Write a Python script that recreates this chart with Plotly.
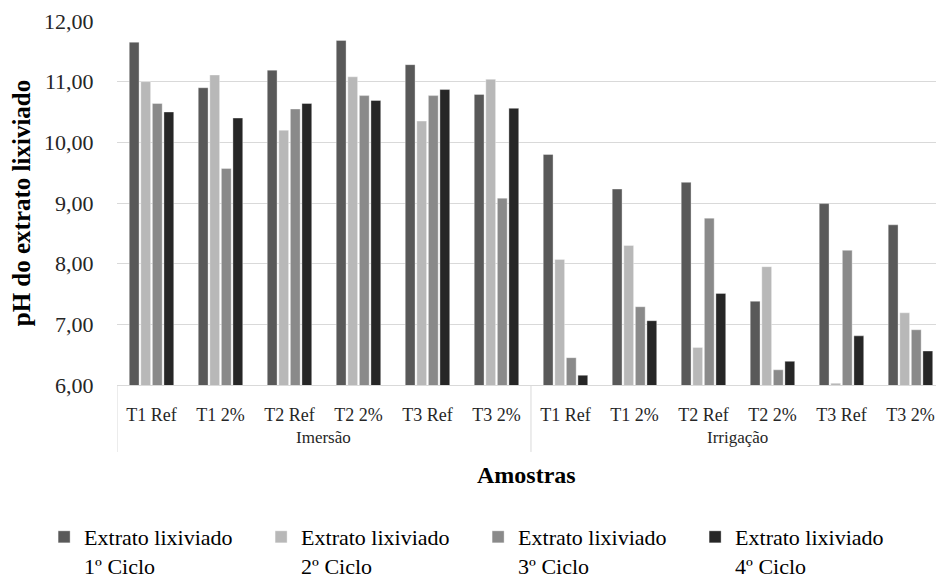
import plotly.graph_objects as go

# Categorias do eixo X (método de lixiviação / amostra)
metodos = ["Imersão"] * 6 + ["Irrigação"] * 6
amostras = ["T1 Ref", "T1 2%", "T2 Ref", "T2 2%", "T3 Ref", "T3 2%"] * 2

# pH do extrato lixiviado em cada ciclo
ciclo1 = [11.65, 10.90, 11.19, 11.68, 11.28, 10.79, 9.80, 9.23, 9.34, 7.38, 8.99, 8.64]
ciclo2 = [11.00, 11.11, 10.20, 11.08, 10.35, 11.04, 8.07, 8.30, 6.62, 7.95, 6.03, 7.19]
ciclo3 = [10.64, 9.57, 10.55, 10.77, 10.77, 9.08, 6.45, 7.29, 8.75, 6.25, 8.22, 6.91]
ciclo4 = [10.50, 10.40, 10.64, 10.69, 10.87, 10.56, 6.16, 7.06, 7.51, 6.39, 6.81, 6.56]

series = [
    ("Extrato lixiviado<br>1º Ciclo", ciclo1, "#595959"),
    ("Extrato lixiviado<br>2º Ciclo", ciclo2, "#b8b8b8"),
    ("Extrato lixiviado<br>3º Ciclo", ciclo3, "#8a8a8a"),
    ("Extrato lixiviado<br>4º Ciclo", ciclo4, "#262626"),
]

FONT = "Times New Roman, Liberation Serif, serif"
GRID = "#d9d9d9"

# posição de cada amostra no eixo (uma por categoria)
posicoes = list(range(len(amostras)))

fig = go.Figure()
for nome, valores, cor in series:
    fig.add_trace(go.Bar(
        x=posicoes,
        y=valores,
        name=nome,
        marker=dict(color=cor, line=dict(color="rgba(255,255,255,0.6)", width=0.6)),
    ))

# grupos (Imersão / Irrigação): rótulo centrado e divisórias nas bordas
grupos = []
for i, m in enumerate(metodos):
    if not grupos or grupos[-1][0] != m:
        grupos.append([m, i, i])
    else:
        grupos[-1][2] = i

annotations = []
shapes = []
for nome, ini, fim in grupos:
    annotations.append(dict(
        x=(ini + fim) / 2, xref="x",
        y=-0.1456, yref="paper",
        text=nome, showarrow=False,
        xanchor="center", yanchor="middle",
        font=dict(family=FONT, size=17, color="#262626"),
    ))
    shapes.append(dict(
        type="line", xref="x", yref="paper",
        x0=ini - 0.5, x1=ini - 0.5, y0=0, y1=-0.184,
        line=dict(color=GRID, width=1),
    ))

# título do eixo X
annotations.append(dict(
    x=0.5, xref="paper", y=-0.247, yref="paper",
    text="<b>Amostras</b>", showarrow=False,
    xanchor="center", yanchor="middle",
    font=dict(family=FONT, size=24, color="#000000"),
))

fig.update_layout(
    width=936,
    height=581,
    margin=dict(l=117, r=0, t=21, b=196, autoexpand=False),
    paper_bgcolor="white",
    plot_bgcolor="white",
    separators=",.",
    barmode="group",
    bargap=0.33,
    bargroupgap=0.15,
    font=dict(family=FONT, color="#000000"),
    showlegend=True,
    annotations=annotations,
    shapes=shapes,
    legend=dict(
        orientation="h",
        x=-0.089,
        xanchor="left",
        y=-0.36,
        yanchor="top",
        font=dict(family=FONT, size=22, color="#000000"),
        valign="top",
        entrywidth=172,
        entrywidthmode="pixels",
        traceorder="normal",
        bgcolor="rgba(0,0,0,0)",
    ),
)

fig.update_yaxes(
    range=[6, 12],
    dtick=1,
    tickformat=".2f",
    showgrid=True,
    gridcolor=GRID,
    gridwidth=1,
    zeroline=False,
    showline=False,
    ticks="outside",
    ticklen=18,
    tickcolor="rgba(0,0,0,0)",
    tickfont=dict(family=FONT, size=22, color="#262626"),
    title=dict(
        text="<b>pH do extrato lixiviado</b>",
        font=dict(family=FONT, size=25, color="#000000"),
        standoff=6,
    ),
)

fig.update_xaxes(
    range=[-0.5, 11.37],
    tickmode="array",
    tickvals=posicoes,
    ticktext=amostras,
    showgrid=False,
    zeroline=False,
    showline=True,
    linecolor=GRID,
    linewidth=1,
    ticks="outside",
    ticklen=13,
    tickcolor="rgba(0,0,0,0)",
    tickfont=dict(family=FONT, size=18, color="#262626"),
)

fig.write_html("out.html")
